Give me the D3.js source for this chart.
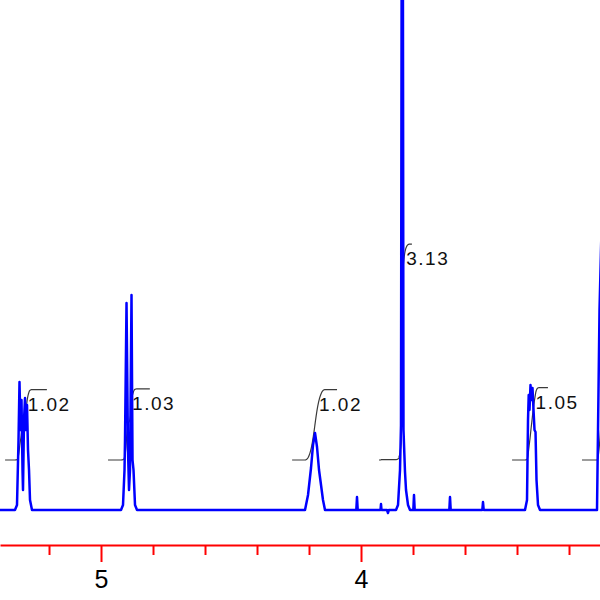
<!DOCTYPE html>
<html><head><meta charset="utf-8">
<script src="https://cdn.jsdelivr.net/npm/d3@7"></script>
<style>body{margin:0;background:#fff;overflow:hidden}</style>
</head><body><svg id="c" width="600" height="600"></svg>
<script>
// Chemical shift (ppm) and intensity of the spectrum trace
const spectrumPpm = [
  5.3885, 5.331, 5.3231, 5.3173, 5.3135, 5.3096, 5.3058, 5.3019, 5.3, 5.2962, 5.2923, 5.2885, 5.2846, 5.2808, 5.2769, 5.2731, 5.2654,
  4.9231, 4.9154, 4.9096, 4.9077, 4.9019, 4.8962, 4.8923, 4.8885, 4.8827, 4.8788, 4.875, 4.8692, 4.8615,
  4.2154, 4.2038, 4.1923, 4.1846, 4.1769, 4.1692, 4.1615, 4.1538, 4.1462, 4.1385,
  4.0181, 4.0154, 4.0127,
  3.9250, 3.9231, 3.9212, 3.9000, 3.8962, 3.8930,
  3.8654, 3.8577, 3.85, 3.8462, 3.8412, 3.8366, 3.8308, 3.8269, 3.8192, 3.8115,
  3.7988, 3.7962, 3.7935,
  3.6604, 3.6577, 3.6550,
  3.5335, 3.5308, 3.5281,
  3.3693, 3.3615, 3.3577, 3.355, 3.3519, 3.3481, 3.3442, 3.3404, 3.3365, 3.3327, 3.3288, 3.325, 3.3192, 3.3115,
  3.0923, 3.0827, 3.073
];
const spectrumIntensity = [
  0, 0, 1, 14, 25.6, 16, 22, 8, 4, 18, 22.4, 16, 21, 12, 8, 2, 0,
  0, 1, 8, 14, 41.4, 12, 4, 8, 43, 10, 8, 1, 0,
  0, 3, 8.4, 13, 15.4, 12.6, 8, 5, 2, 0,
  0, 2.6, 0,
  0, 1.2, 0, 0, -0.6, 0,
  0, 1, 8, 17, 200, 16, 7.6, 4, 1, 0,
  0, 3, 0,
  0, 2.6, 0,
  0, 1.6, 0,
  0, 2, 18, 23, 20, 25, 22, 24.4, 20, 16, 15.6, 6, 1, 0,
  0, 40, 60
];
// Integral regions (ppm) and their values
const integralFrom = [5.369, 4.973, 4.265, 3.931, 3.419, 3.150];
const integralTo   = [5.208, 4.812, 4.092, 3.804, 3.281, 3.070];
const integralValues = [1.02, 1.03, 1.02, 3.13, 1.05, 1.0];
const integralLabels = ["1.02", "1.03", "1.02", "3.13", "1.05", ""];
// Axis ticks
const majorTicks = [5, 4];
const minorTicks = [5.2, 4.8, 4.6, 4.4, 4.2, 3.8, 3.6, 3.4, 3.2];

const svg = d3.select("#c");
const x = d3.scaleLinear().domain([5.3885, 3.0808]).range([0, 600]);
const y = d3.scaleLinear().domain([0, 100]).range([510, 10]);
const yInt = d3.scaleLinear().domain([0, 1]).range([460, 391]);

svg.append("defs").append("clipPath").attr("id", "clip")
  .append("rect").attr("x", 0).attr("y", 0).attr("width", 600).attr("height", 540);

const pts = spectrumPpm.map((p, i) => ({p, v: spectrumIntensity[i]}));
const sorted = pts.slice().sort((a, b) => a.p - b.p);
const bis = d3.bisector(d => d.p).left;
function interp(p) {
  let i = bis(sorted, p);
  if (i <= 0) return sorted[0].v;
  if (i >= sorted.length) return sorted[sorted.length - 1].v;
  const a = sorted[i - 1], b = sorted[i];
  return a.v + (b.v - a.v) * (p - a.p) / (b.p - a.p);
}

const g = svg.append("g").attr("clip-path", "url(#clip)");

// integrals
integralFrom.forEach((from, k) => {
  const to = integralTo[k];
  const step = 0.0004;
  const samples = [];
  let cum = 0;
  for (let p = from; p >= to; p -= step) {
    cum += Math.max(0, interp(p));
    samples.push({p, c: cum});
  }
  const total = cum || 1;
  const line = d3.line().x(d => x(d.p)).y(d => yInt(integralValues[k] * d.c / total));
  g.append("path").datum(samples).attr("d", line)
    .attr("fill", "none").attr("stroke", "#3a3a3a").attr("stroke-width", 1.2);
  const half = samples.find(d => d.c / total >= 0.5);
  if (integralLabels[k]) {
    g.append("text").attr("x", x(half.p) + 4).attr("y", yInt(integralValues[k]) + 21)
      .attr("font-family", "Liberation Sans, Arial, sans-serif").attr("font-size", 19)
      .attr("letter-spacing", 1.5).attr("fill", "#111").text(integralLabels[k]);
  }
});

// spectrum
g.append("path").datum(pts)
  .attr("d", d3.line().x(d => x(d.p)).y(d => y(d.v)))
  .attr("fill", "none").attr("stroke", "#0000ff").attr("stroke-width", 2.5)
  .attr("stroke-linejoin", "round");

// axis
const axisG = svg.append("g").attr("transform", "translate(0,545)");
axisG.call(d3.axisBottom(x).tickValues(majorTicks).tickSize(17).tickSizeOuter(0).tickFormat(d3.format("d")));
axisG.select(".domain").attr("stroke", "#ff0000").attr("stroke-width", 2);
axisG.selectAll(".tick line").attr("stroke", "#ff0000").attr("stroke-width", 2);
axisG.selectAll(".tick text").attr("y", 43).attr("dy", 0)
  .attr("font-family", "Liberation Sans, Arial, sans-serif").attr("font-size", 25).attr("fill", "#000");
const minorG = svg.append("g").attr("transform", "translate(0,545)");
minorG.call(d3.axisBottom(x).tickValues(minorTicks).tickSize(10).tickSizeOuter(0).tickFormat(""));
minorG.select(".domain").remove();
minorG.selectAll(".tick line").attr("stroke", "#ff0000").attr("stroke-width", 2);
</script></body></html>
